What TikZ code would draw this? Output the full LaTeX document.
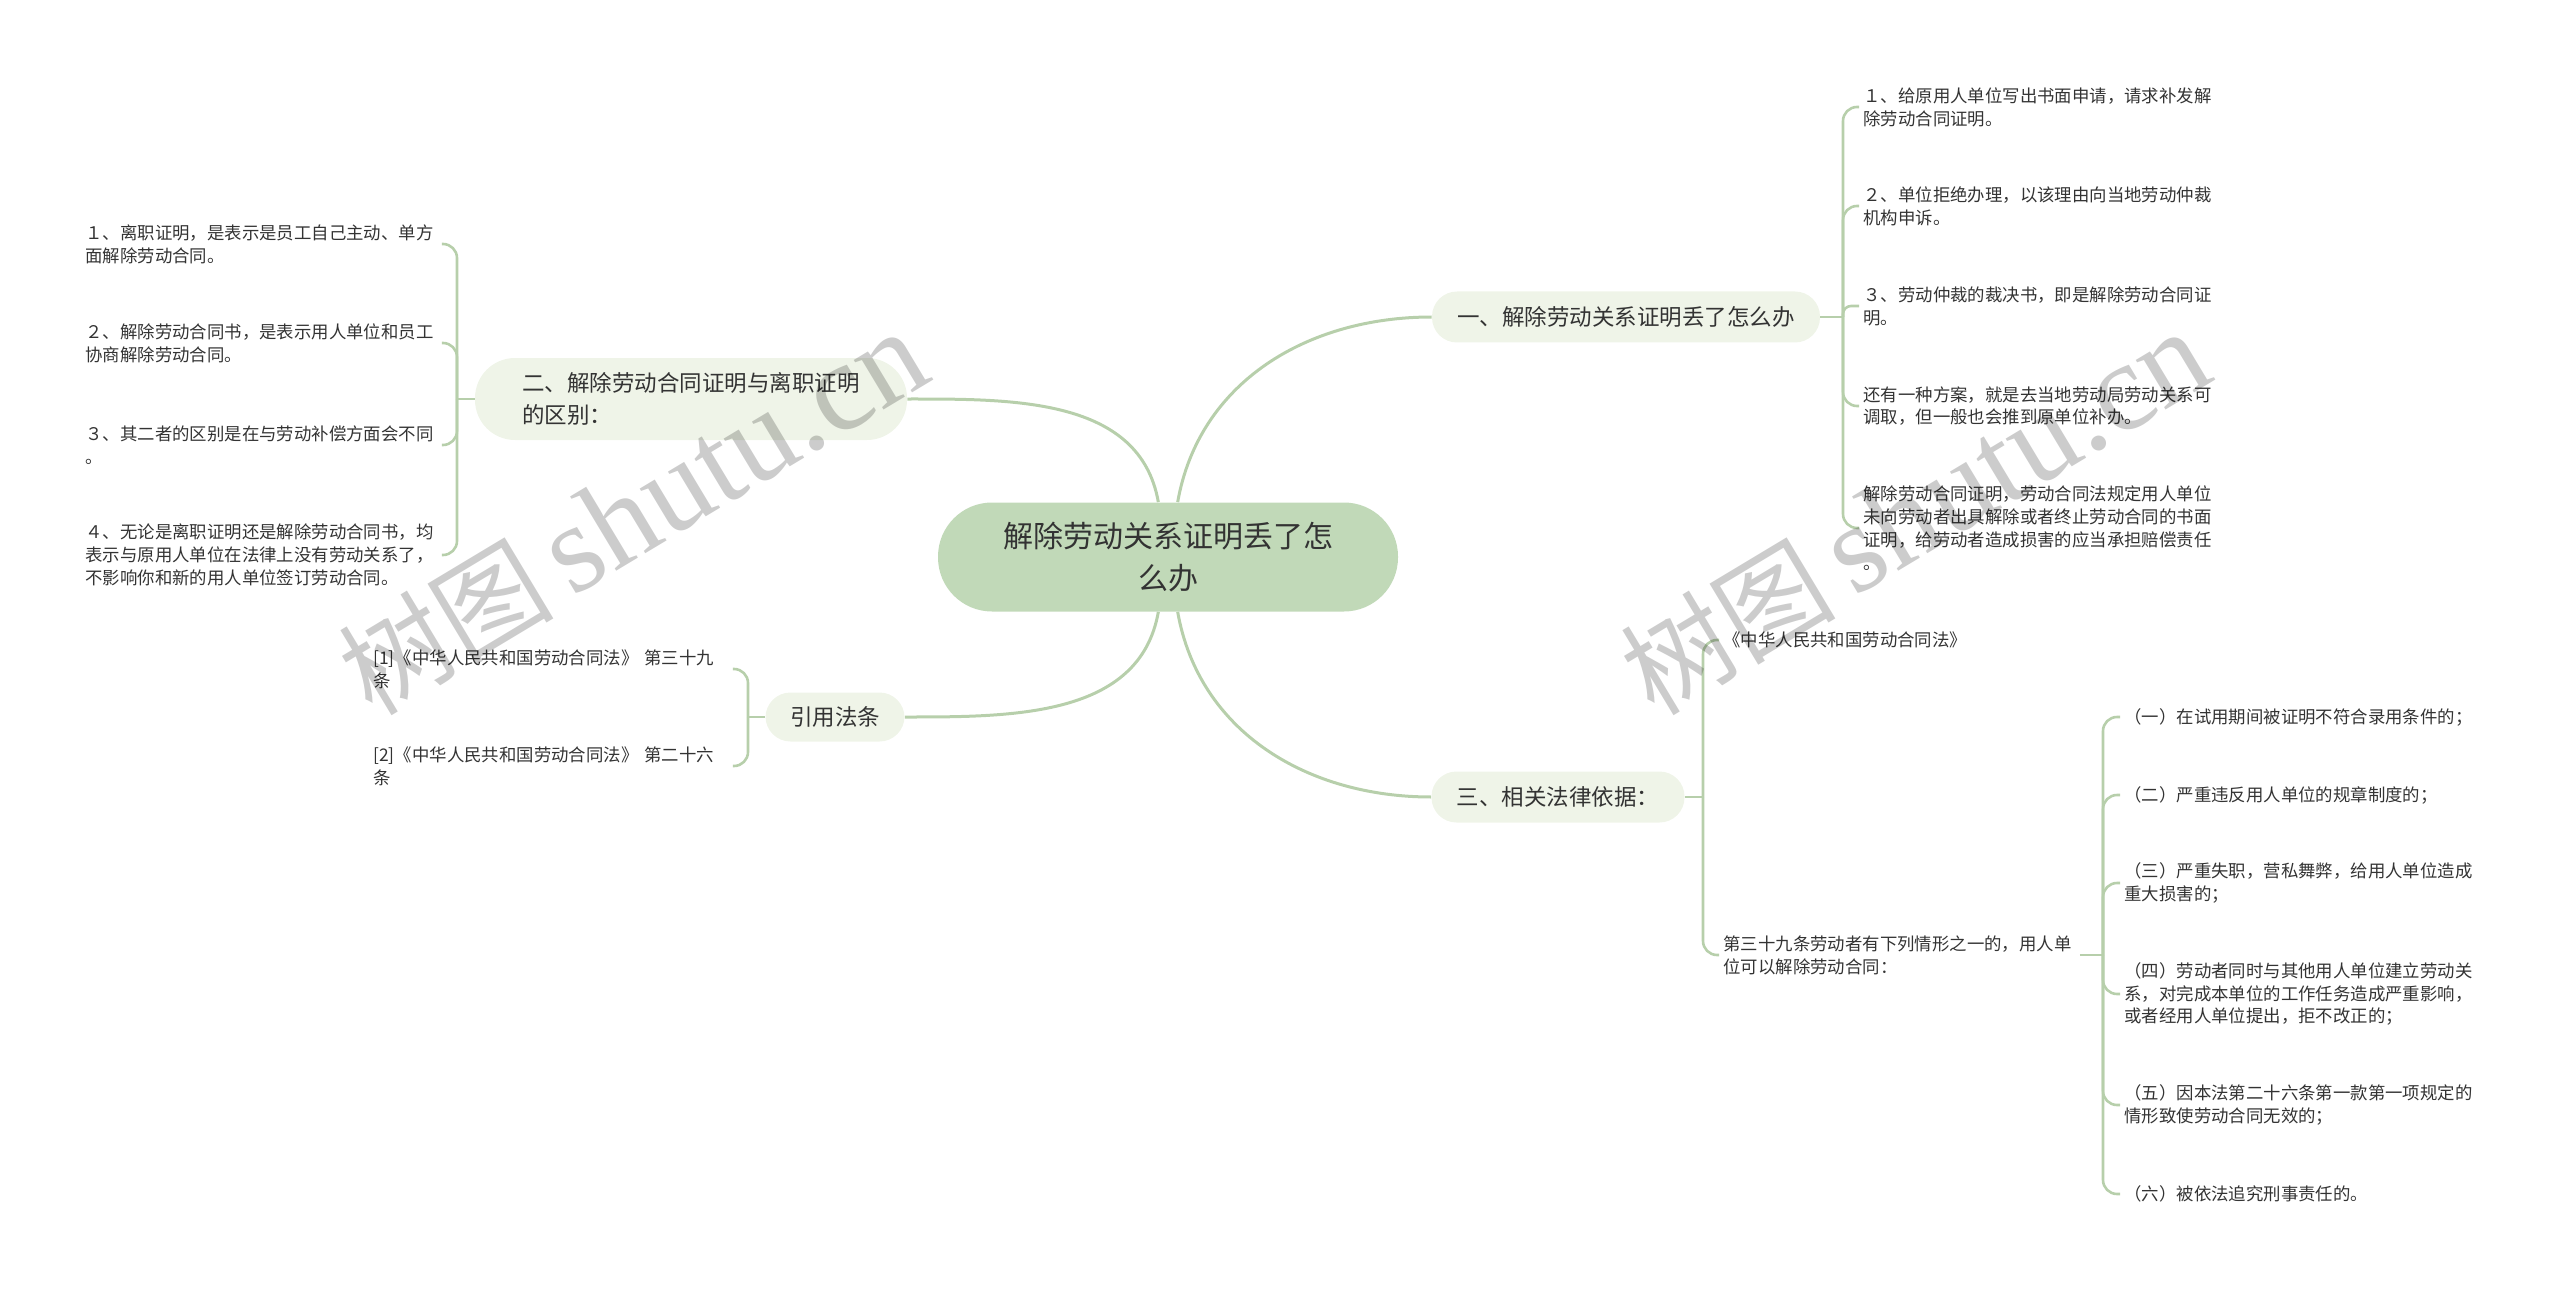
\documentclass[tikz,border=0pt]{standalone}
\usepackage{fontspec}
\setmainfont{Noto Sans CJK SC}
\newfontfamily\wmlat{Liberation Serif}
\usetikzlibrary{backgrounds}
\definecolor{rootfill}{HTML}{C1D9B8}
\definecolor{subfill}{HTML}{EFF4E8}
\definecolor{linec}{HTML}{B7CFAB}
\definecolor{txt}{HTML}{333333}
\begin{document}
\begin{tikzpicture}[x=0.5pt,y=-0.5pt,
  rootbox/.style={fill=rootfill, rounded corners=27pt, minimum width=230pt, minimum height=54.5pt, align=center, font=\fontsize{15pt}{21pt}\selectfont, text=txt, inner sep=0pt},
  subbox/.style={fill=subfill, rounded corners=12.5pt, minimum height=25.5pt, align=left, font=\fontsize{11.25pt}{16pt}\selectfont, text=txt, inner sep=0pt},
  leaf/.style={align=left, font=\fontsize{8.7pt}{11.4pt}\selectfont, text=txt, inner xsep=2pt, inner ysep=1pt},
  mainline/.style={draw=linec, line width=1.5pt},
  leafline/.style={draw=linec, line width=1.3pt, rounded corners=7pt},
  wm/.style={rotate=31, anchor=base west, text=black, opacity=0.2, inner sep=0pt}
]
\useasboundingbox (0,0) rectangle (2560,1289);

% root and main topics
\node[rootbox] (root) at (1168,557) {解除劳动关系证明丢了怎\\么办};
\node[subbox, minimum width=194pt] (n1) at (1626,317) {一、解除劳动关系证明丢了怎么办};
\node[subbox, minimum width=216pt, minimum height=41pt, rounded corners=20pt] (n2) at (691,399) {二、解除劳动合同证明与离职证明\\的区别：};
\node[subbox, minimum width=69.5pt, minimum height=24.5pt] (n3) at (835,717) {引用法条};
\node[subbox, minimum width=126.5pt] (n4) at (1558,797) {三、相关法律依据：};

% right group 1
\node[leaf, anchor=west] (r1) at (1859,107) {１、给原用人单位写出书面申请，请求补发解\\除劳动合同证明。};
\node[leaf, anchor=west] (r2) at (1859,206) {２、单位拒绝办理，以该理由向当地劳动仲裁\\机构申诉。};
\node[leaf, anchor=west] (r3) at (1859,306) {３、劳动仲裁的裁决书，即是解除劳动合同证\\明。};
\node[leaf, anchor=west] (r4) at (1859,406) {还有一种方案，就是去当地劳动局劳动关系可\\调取，但一般也会推到原单位补办。};
\node[leaf, anchor=west] (r5) at (1859,528) {解除劳动合同证明，劳动合同法规定用人单位\\未向劳动者出具解除或者终止劳动合同的书面\\证明，给劳动者造成损害的应当承担赔偿责任\\。};

% left group 2
\node[leaf, anchor=west, text width=176pt] (l1) at (81,244) {１、离职证明，是表示是员工自己主动、单方\\面解除劳动合同。};
\node[leaf, anchor=west, text width=176pt] (l2) at (81,343) {２、解除劳动合同书，是表示用人单位和员工\\协商解除劳动合同。};
\node[leaf, anchor=west, text width=176pt] (l3) at (81,445) {３、其二者的区别是在与劳动补偿方面会不同\\。};
\node[leaf, anchor=west, text width=176pt] (l4) at (81,555) {４、无论是离职证明还是解除劳动合同书，均\\表示与原用人单位在法律上没有劳动关系了，\\不影响你和新的用人单位签订劳动合同。};

% citations
\node[leaf, anchor=west, text width=177.5pt] (c1) at (369,669) {[1]《中华人民共和国劳动合同法》 第三十九\\条};
\node[leaf, anchor=west, text width=177.5pt] (c2) at (369,766) {[2]《中华人民共和国劳动合同法》 第二十六\\条};

% right group 3
\node[leaf, anchor=west] (s1) at (1719,640) {《中华人民共和国劳动合同法》};
\node[leaf, anchor=west, text width=176pt] (s2) at (1719,955) {第三十九条劳动者有下列情形之一的，用人单\\位可以解除劳动合同：};

\node[leaf, anchor=west] (t1) at (2120,717) {（一）在试用期间被证明不符合录用条件的；};
\node[leaf, anchor=west] (t2) at (2120,795) {（二）严重违反用人单位的规章制度的；};
\node[leaf, anchor=west] (t3) at (2120,883) {（三）严重失职，营私舞弊，给用人单位造成\\重大损害的；};
\node[leaf, anchor=west] (t4) at (2120,994) {（四）劳动者同时与其他用人单位建立劳动关\\系，对完成本单位的工作任务造成严重影响，\\或者经用人单位提出，拒不改正的；};
\node[leaf, anchor=west] (t5) at (2120,1105) {（五）因本法第二十六条第一款第一项规定的\\情形致使劳动合同无效的；};
\node[leaf, anchor=west] (t6) at (2120,1194) {（六）被依法追究刑事责任的。};

% junctions
\coordinate (j1) at (1843,317);
\coordinate (j2) at (457,399);
\coordinate (j3) at (748,717);
\coordinate (j4) at (1703,797);
\coordinate (j5) at (2103,955);

\begin{scope}[on background layer]
\draw[mainline] (root) to[out=80,in=180] (n1.west);
\draw[mainline] (root) to[out=100,in=0] (n2.east);
\draw[mainline] (root) to[out=260,in=0] (n3.east);
\draw[mainline] (root) to[out=280,in=180] (n4.west);
\end{scope}

\draw[leafline] (n1.east) -- (j1);
\foreach \c in {r1,r2,r4,r5} \draw[leafline] (j1) |- (\c.west);
\draw[leafline, rounded corners=4pt] (j1) |- (r3.west);

\draw[leafline] (n2.west) -- (j2);
\foreach \c in {l1,l2,l3,l4} \draw[leafline] (j2) |- (\c.east);

\draw[leafline] (n3.west) -- (j3);
\foreach \c in {c1,c2} \draw[leafline] (j3) |- (\c.east);

\draw[leafline] (n4.east) -- (j4);
\foreach \c in {s1,s2} \draw[leafline] (j4) |- (\c.west);

\draw[leafline] (s2.east) -- (j5);
\foreach \c in {t1,t2,t3,t4,t5,t6} \draw[leafline] (j5) |- (\c.west);

% watermarks
\node[wm] (wm1) at (372,718) {\fontsize{54pt}{54pt}\selectfont 树图\,{\wmlat\fontsize{63pt}{63pt}\selectfont shutu.cn}};
\node[wm] (wm2) at (1654,718) {\fontsize{54pt}{54pt}\selectfont 树图\,{\wmlat\fontsize{63pt}{63pt}\selectfont shutu.cn}};
\end{tikzpicture}
\end{document}
